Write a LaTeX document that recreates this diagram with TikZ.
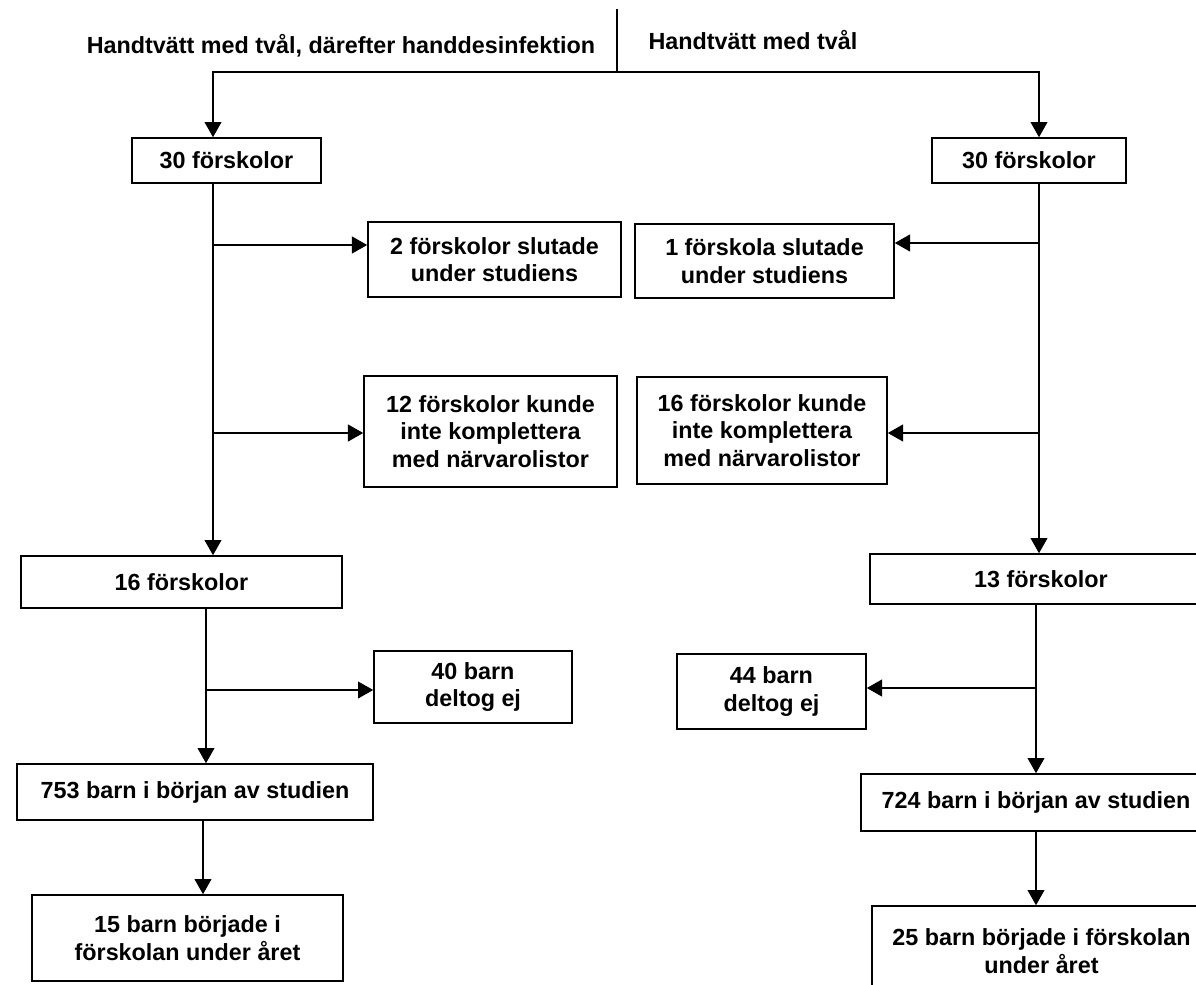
\documentclass[tikz,border=0pt]{standalone}
\usepackage{fontspec}
\setmainfont{Liberation Sans}
\usepackage{tikz}
\usetikzlibrary{arrows.meta}

\begin{document}
\begin{tikzpicture}[
    x=0.025cm, y=-0.025cm,
    line width=1.1pt,
    font=\bfseries\fontsize{16.6}{19.5}\selectfont,
    box/.style={rectangle, draw, inner sep=0pt, align=center},
    link/.style={-{Triangle[length=0.38cm, width=0.42cm]}}
]
\useasboundingbox (0,0) rectangle (1196,985);
\clip (0,0) rectangle (1196,985);

% headings
\node[anchor=base] (lhead) at (341,54) {Handtvätt med tvål, därefter handdesinfektion};
\node[anchor=base] (rhead) at (753,50) {Handtvätt med tvål};

% left arm
\node[box, minimum width=4.725cm, minimum height=1.125cm] (l30) at (226.5,160.5) {30 förskolor};
\node[box, minimum width=6.325cm, minimum height=1.875cm] (lstop) at (494.5,259.5) {2 förskolor slutade\\under studiens};
\node[box, minimum width=6.325cm, minimum height=2.775cm] (lmiss) at (490.5,431.5) {12 förskolor kunde\\inte komplettera\\med närvarolistor};
\node[box, minimum width=8.025cm, minimum height=1.3cm] (l16) at (181.5,582) {16 förskolor};
\node[box, minimum width=4.95cm, minimum height=1.8cm] (lej) at (473,687) {40 barn\\deltog ej};
\node[box, minimum width=8.9cm, minimum height=1.4cm] (l753) at (195,792) {753 barn i början av studien};
\node[box, minimum width=7.775cm, minimum height=2.15cm] (l15) at (187.5,938) {15 barn började i\\förskolan under året};

% right arm
\node[box, minimum width=4.85cm, minimum height=1.125cm] (r30) at (1029,160.5) {30 förskolor};
\node[box, minimum width=6.475cm, minimum height=1.85cm] (rstop) at (764.5,261) {1 förskola slutade\\under studiens};
\node[box, minimum width=6.25cm, minimum height=2.675cm] (rmiss) at (762,430.5) {16 förskolor kunde\\inte komplettera\\med närvarolistor};
\node[box, minimum width=8.55cm, minimum height=1.25cm] (r13) at (1041,579) {13 förskolor};
\node[box, minimum width=4.725cm, minimum height=1.875cm] (rej) at (771.5,691.5) {44 barn\\deltog ej};
\node[box, minimum width=8.75cm, minimum height=1.425cm] (r724) at (1036,802.5) {724 barn i början av studien};
\node[box, minimum width=8.475cm, minimum height=2.25cm] (r25) at (1041.5,951) {25 barn började i förskolan\\under året};

% column lines and branch points
\coordinate (top) at (617,9);
\coordinate (split) at (617,72);
\coordinate (lcol) at (213,0);
\coordinate (lcolb) at (206,0);
\coordinate (lcolc) at (203,0);
\coordinate (rcol) at (1039,0);
\coordinate (rcolb) at (1036,0);
\coordinate (lb1) at (213,245);
\coordinate (lb2) at (213,433);
\coordinate (lb3) at (206,690);
\coordinate (rb1) at (1039,243);
\coordinate (rb2) at (1039,433);
\coordinate (rb3) at (1036,688);

\draw (top) -- (split);
\draw[link] (split) -| (l30.north -| lcol);
\draw[link] (split) -| (r30.north -| rcol);

\draw[link] (l30.south -| lcol) -- (l16.north -| lcol);
\draw[link] (lb1) -- (lb1 -| lstop.west);
\draw[link] (lb2) -- (lb2 -| lmiss.west);
\draw[link] (l16.south -| lcolb) -- (l753.north -| lcolb);
\draw[link] (lb3) -- (lb3 -| lej.west);
\draw[link] (l753.south -| lcolc) -- (l15.north -| lcolc);

\draw[link] (r30.south -| rcol) -- (r13.north -| rcol);
\draw[link] (rb1) -- (rb1 -| rstop.east);
\draw[link] (rb2) -- (rb2 -| rmiss.east);
\draw[link] (r13.south -| rcolb) -- (r724.north -| rcolb);
\draw[link] (rb3) -- (rb3 -| rej.east);
\draw[link] (r724.south -| rcolb) -- (r25.north -| rcolb);
\end{tikzpicture}
\end{document}
